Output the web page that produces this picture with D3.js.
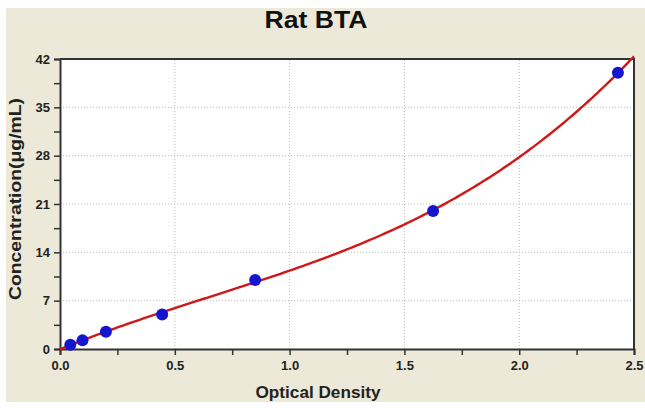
<!DOCTYPE html>
<html lang="en">
<head>
  <meta charset="UTF-8">
  <title>Rat BTA</title>
  <script src="https://d3js.org/d3.v7.min.js"></script>
  <style>
    body { margin: 0; background: #fff; }
    svg { display: block; font-family: Arial, "Liberation Sans", sans-serif; }
  </style>
</head>
<body>
  <script>
    const width = 645;
    const height = 408;

    // standard curve readings
    const od = [0.045, 0.098, 0.2, 0.445, 0.85, 1.625, 2.43];
    const conc = [0.625, 1.25, 2.5, 5, 10, 20, 40];
    const xTicks = [0, 0.5, 1.0, 1.5, 2.0, 2.5];
    const yTicks = [0, 7, 14, 21, 28, 35, 42];

    const margin = { top: 59, right: 11, bottom: 59, left: 60 };

    const svg = d3.select("body").append("svg")
      .attr("width", width)
      .attr("height", height);

    // beige panel with thin white edges
    svg.append("rect")
      .attr("x", 6).attr("y", 8)
      .attr("width", width - 6).attr("height", 394)
      .attr("fill", "#ece9d8");

    const x = d3.scaleLinear().domain([0, 2.5]).range([margin.left, width - margin.right]);
    const y = d3.scaleLinear().domain([0, 42]).range([height - margin.bottom, margin.top]);

    svg.append("rect")
      .attr("x", x(0)).attr("y", y(42))
      .attr("width", x(2.5) - x(0)).attr("height", y(0) - y(42))
      .attr("fill", "#fff");

    // grid
    svg.append("g").selectAll("line")
      .data(xTicks.slice(1, -1)).enter().append("line")
      .attr("x1", d => x(d)).attr("x2", d => x(d))
      .attr("y1", y(0)).attr("y2", y(42))
      .attr("stroke", "#bbb").attr("stroke-dasharray", "1,2");
    svg.append("g").selectAll("line")
      .data(yTicks.slice(1, -1)).enter().append("line")
      .attr("x1", x(0)).attr("x2", x(2.5))
      .attr("y1", d => y(d)).attr("y2", d => y(d))
      .attr("stroke", "#bbb").attr("stroke-dasharray", "1,2");

    // axes
    const xAxis = svg.append("g")
      .attr("transform", `translate(0,${y(0)})`)
      .call(d3.axisBottom(x).tickValues(d3.range(0, 2.51, 0.25)).tickSize(6)
        .tickFormat(d => (Math.round(d * 100) % 50 === 0 ? d.toFixed(1) : "")));
    const yAxis = svg.append("g")
      .attr("transform", `translate(${x(0)},0)`)
      .call(d3.axisLeft(y).tickValues(d3.range(0, 42.1, 3.5)).tickSize(6)
        .tickFormat(d => (d % 7 === 0 ? d : "")));

    [xAxis, yAxis].forEach(g => {
      g.select(".domain").attr("stroke", "#333").attr("stroke-width", 2);
      g.selectAll(".tick line").attr("stroke", "#333").attr("stroke-width", 1.5);
      g.selectAll("text").attr("fill", "#222").style("font-size", "13px").style("font-weight", "bold");
    });
    xAxis.selectAll("text").attr("y", 12);
    yAxis.selectAll("text").attr("x", -10);

    // top and right frame
    svg.append("path")
      .attr("d", `M${x(0)},${y(42)}H${x(2.5)}V${y(0)}`)
      .attr("fill", "none").attr("stroke", "#333").attr("stroke-width", 2);

    // cubic least-squares fit through origin + standards
    const fx = [0].concat(od), fy = [0].concat(conc);
    const deg = 3;
    const A = [], b = [];
    for (let i = 0; i <= deg; i++) {
      A.push([]);
      for (let j = 0; j <= deg; j++) A[i].push(d3.sum(fx, v => Math.pow(v, i + j)));
      b.push(d3.sum(fx, (v, k) => Math.pow(v, i) * fy[k]));
    }
    for (let i = 0; i <= deg; i++) {
      for (let k = i + 1; k <= deg; k++) {
        const f = A[k][i] / A[i][i];
        for (let j = i; j <= deg; j++) A[k][j] -= f * A[i][j];
        b[k] -= f * b[i];
      }
    }
    const coef = new Array(deg + 1).fill(0);
    for (let i = deg; i >= 0; i--) {
      let s = b[i];
      for (let j = i + 1; j <= deg; j++) s -= A[i][j] * coef[j];
      coef[i] = s / A[i][i];
    }
    const fit = v => coef.reduce((s, c, i) => s + c * Math.pow(v, i), 0);
    const curve = d3.range(0, 2.501, 0.01).map(v => [v, fit(v)]);

    svg.append("path")
      .datum(curve)
      .attr("fill", "none")
      .attr("stroke", "#d01818")
      .attr("stroke-width", 2.4)
      .attr("d", d3.line().x(d => x(d[0])).y(d => y(d[1])));

    svg.append("g").selectAll("circle")
      .data(od).enter().append("circle")
      .attr("cx", d => x(d))
      .attr("cy", (d, i) => y(conc[i]))
      .attr("r", 6)
      .attr("fill", "#1515d0");

    // titles
    svg.append("text")
      .attr("x", 316).attr("y", 28)
      .attr("text-anchor", "middle")
      .attr("textLength", 103).attr("lengthAdjust", "spacingAndGlyphs")
      .style("font-size", "23px").style("font-weight", "bold")
      .attr("fill", "#111")
      .text("Rat BTA");

    svg.append("text")
      .attr("x", 318).attr("y", 398)
      .attr("text-anchor", "middle")
      .attr("textLength", 125).attr("lengthAdjust", "spacingAndGlyphs")
      .style("font-size", "17px").style("font-weight", "bold")
      .attr("fill", "#222")
      .text("Optical Density");

    svg.append("text")
      .attr("transform", `translate(21,199) rotate(-90)`)
      .attr("text-anchor", "middle")
      .attr("textLength", 202).attr("lengthAdjust", "spacingAndGlyphs")
      .style("font-size", "17px").style("font-weight", "bold")
      .attr("fill", "#222")
      .text("Concentration(μg/mL)");
  </script>
</body>
</html>
